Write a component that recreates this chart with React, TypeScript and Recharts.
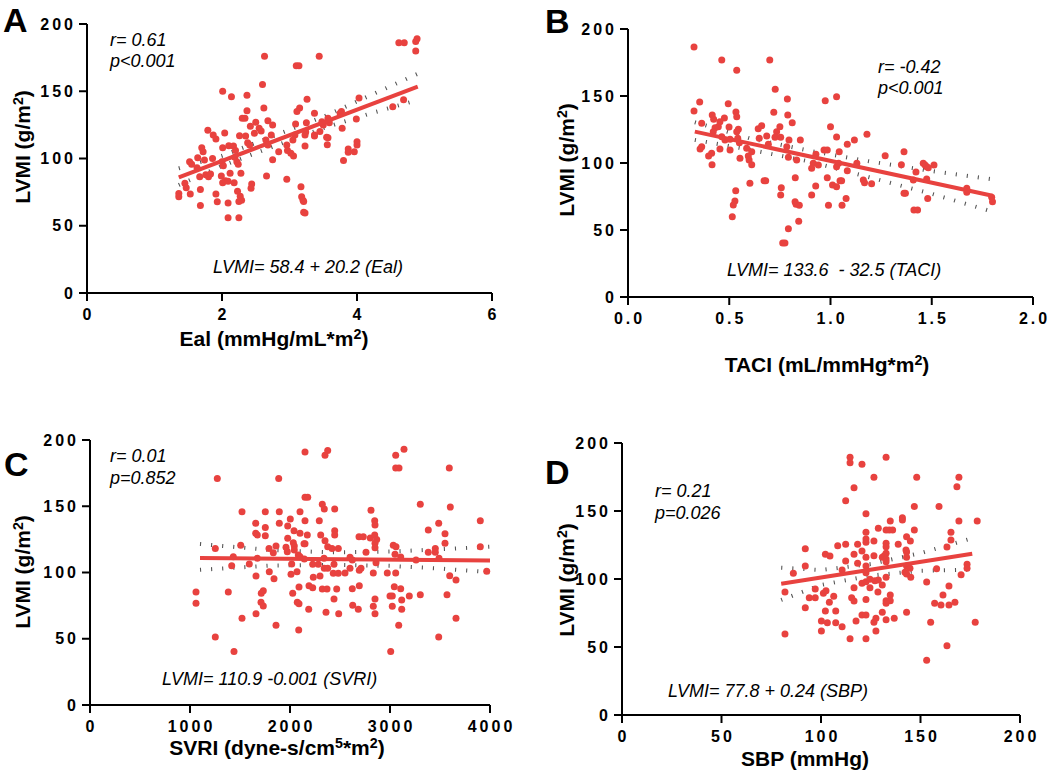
import * as React from "react";
import { Scatter, ScatterChart, XAxis, YAxis } from "recharts";

type Pt = [number, number];

const RED = "#E8423F";
const FONT = "'Liberation Sans', Arial, Helvetica, sans-serif";

// ---- A: Eal vs LVMI ----
const eaiPoints: Pt[] = [
  [2.63, 176], [3.44, 176], [3.1, 169], [3.14, 169], [2.6, 155], [2.01, 150], [2.14, 146], [2.37, 147],
  [3.26, 144], [2.62, 137.5], [2.37, 135.5], [3.15, 137.5], [3.11, 135], [3.37, 133.6], [2.3, 130], [2.34, 130],
  [2.5, 127], [2.68, 128], [2.75, 125], [3.09, 125.6], [2.42, 124], [2.55, 122.4], [2.58, 120.4], [1.79, 121],
  [2.04, 119], [1.87, 117.5], [1.91, 114.5], [2.26, 117], [2.35, 116.7], [2.48, 118.7], [2.65, 113.8], [2.73, 117.5],
  [3.08, 117.5], [3.05, 113.8], [3.23, 117.5], [3.24, 119.7], [3.37, 117.5], [3.45, 120], [3.55, 115.8], [2.38, 111.7],
  [2.41, 110], [1.7, 108], [1.72, 105], [2.01, 108], [2.1, 109.5], [2.17, 109.3], [2.2, 106], [2.68, 110],
  [2.84, 105], [2.96, 110], [2.97, 106], [3.02, 103.9], [3.06, 101.8], [3.23, 109.3], [1.64, 100.6], [1.52, 97.6],
  [1.55, 95.7], [1.74, 98.9], [1.86, 100], [2.0, 97.6], [2.02, 94.7], [2.19, 101], [2.22, 97.6], [2.24, 95.7],
  [2.75, 99], [1.63, 93.2], [1.67, 86.5], [1.76, 88], [1.8, 86.5], [1.83, 88.5], [1.99, 87], [2.12, 89],
  [2.28, 89], [2.66, 87], [2.96, 84.5], [1.36, 74], [1.36, 71.6], [1.45, 81.6], [1.47, 78.3], [1.53, 73.6],
  [1.68, 77], [1.91, 73.6], [1.93, 67.9], [2.01, 82], [2.05, 83.5], [2.09, 83], [2.18, 82], [2.23, 75.6],
  [2.44, 81], [2.43, 77.8], [2.09, 67], [2.27, 72], [2.29, 69], [2.25, 68], [1.68, 65], [2.09, 56],
  [2.25, 56], [3.17, 79], [3.18, 71.6], [3.2, 69], [3.21, 68], [3.21, 60], [3.23, 59.5], [4.62, 186],
  [4.7, 186], [4.89, 189], [4.87, 187], [4.87, 180], [4.03, 145], [4.69, 143.7], [4.53, 138.5], [3.77, 135],
  [3.75, 133.6], [3.99, 129.4], [3.25, 126.6], [3.48, 127.4], [3.5, 125], [3.57, 130], [3.59, 126.6], [3.78, 122.4],
  [3.37, 116.8], [3.57, 115.5], [3.56, 110.3], [3.87, 107], [3.87, 104.6], [3.96, 105], [4.0, 112.5], [4.0, 110],
  [3.8, 98.6],
];
const eaiFit: Pt[] = [[1.36, 86], [4.9, 153.5]];
const eaiUpper: Pt[] = [[1.36, 92.7], [2.0, 102], [2.7, 115.5], [3.5, 131], [4.2, 147], [4.9, 163]];
const eaiLower: Pt[] = [[1.36, 80.3], [2.0, 94.5], [2.7, 107.8], [3.5, 122.6], [4.2, 133.5], [4.9, 143.5]];

// ---- B: TACI vs LVMI ----
const taciPoints: Pt[] = [
  [0.326, 186.6], [0.463, 176.9], [0.7, 176.9], [0.537, 169.2], [0.727, 155], [0.787, 147.8], [0.354, 145.5], [0.326, 138.8],
  [0.495, 144.3], [0.533, 138], [0.537, 134.6], [0.72, 137.8], [0.789, 135.8], [0.416, 135.8], [0.423, 132.6], [0.476, 133.6],
  [0.364, 129.6], [0.454, 130.8], [0.446, 127.1], [0.43, 126.3], [0.811, 130], [0.499, 126.9], [0.545, 125.1], [0.537, 123.4],
  [0.66, 127.8], [0.643, 125.6], [0.75, 127.1], [0.734, 123.4], [0.726, 119.2], [0.754, 119.2], [0.421, 123.4], [1.0, 127.1],
  [1.03, 149.5], [0.974, 146.5], [1.03, 119.4], [0.648, 118.4], [0.685, 120.1], [0.795, 117.2], [0.851, 117.2], [0.463, 119.6],
  [0.479, 117.2], [0.504, 117.7], [0.542, 118.4], [0.55, 115.1], [0.693, 113.9], [0.784, 112.2], [0.364, 112.2], [0.356, 110.4],
  [0.454, 110.4], [0.504, 109.7], [0.586, 111], [0.611, 108.4], [0.594, 105.2], [0.598, 102.2], [0.413, 107.2], [0.398, 105.2],
  [0.553, 103.5], [0.792, 104.3], [0.833, 102.2], [0.928, 106.5], [0.968, 109.7], [0.984, 109.7], [0.915, 99.8], [0.907, 96],
  [0.94, 98.5], [1.03, 97.2], [1.04, 99.8], [0.415, 98.7], [0.611, 98.7], [0.826, 89], [0.984, 89], [0.602, 84.8],
  [0.672, 86.8], [0.68, 86.8], [0.927, 82.8], [1.01, 83.6], [1.03, 82.3], [0.757, 81.6], [0.754, 76.1], [0.532, 79.3],
  [0.907, 76.1], [0.528, 71.6], [0.52, 68.7], [0.825, 71.1], [0.83, 69.2], [0.846, 68.4], [0.515, 59.9], [0.843, 56.5],
  [0.792, 51], [0.764, 40.3], [0.775, 40.3], [1.18, 121.4], [1.118, 117.2], [1.083, 113.9], [1.043, 108.4], [1.27, 105.4],
  [1.363, 108.4], [1.083, 94.3], [1.13, 99.8], [1.35, 98.7], [1.458, 99.8], [1.475, 97.2], [1.467, 98.5], [1.483, 96.5],
  [1.511, 98.5], [1.422, 93.3], [1.475, 88], [1.162, 87.3], [1.168, 85.3], [1.203, 84.6], [1.047, 86.8], [1.055, 86.8],
  [1.409, 87.3], [1.673, 81.1], [1.673, 78.1], [1.796, 74.4], [1.8, 71.1], [1.363, 77.4], [1.37, 77.4], [1.48, 73.6],
  [1.077, 73.6], [1.057, 68.4], [1.412, 64.9], [1.43, 64.9], [0.99, 68.5],
];
const taciFit: Pt[] = [[0.33, 123.4], [1.8, 75.6]];
const taciUpper: Pt[] = [[0.33, 130.4], [0.6, 118.5], [0.9, 109], [1.2, 101], [1.5, 94], [1.8, 87.8]];
const taciLower: Pt[] = [[0.33, 117.2], [0.6, 110], [0.9, 101], [1.2, 89], [1.5, 77], [1.8, 63.7]];

// ---- C: SVRI vs LVMI ----
const svriPoints: Pt[] = [
  [2150, 190.9], [2377, 192], [2350, 188.4], [1273, 171], [1887, 171], [2150, 156.8], [2177, 156.8], [2323, 151.5],
  [2343, 148], [1520, 145.9], [1753, 145.9], [1893, 145.9], [2100, 145.9], [2447, 148], [1657, 137.1], [1753, 134],
  [1893, 137.1], [2003, 140.4], [2150, 139.1], [2293, 139.1], [1977, 135.1], [2040, 131.6], [2100, 129.6], [2173, 128.3],
  [1657, 129.6], [1673, 128.3], [1753, 127.8], [2447, 131.6], [2447, 128.3], [2307, 128.3], [1977, 125.8], [2350, 124],
  [2033, 122.5], [2043, 120], [2150, 121.7], [2140, 121.7], [1790, 118.2], [1860, 120], [1960, 119], [2377, 119.5],
  [2420, 118.2], [2483, 118.2], [1253, 118.2], [1507, 120.5], [1833, 114.9], [1973, 115.7], [2043, 117], [2083, 113.2],
  [2100, 111.9], [1433, 111.9], [1673, 110.7], [2143, 110.2], [2340, 110.7], [2017, 106.4], [1417, 105.1], [1593, 106.4],
  [2227, 106.2], [2283, 106.2], [2440, 106.2], [2343, 103.2], [2377, 103.2], [1660, 97.4], [1793, 100.6], [1840, 95.3],
  [2010, 98.6], [2070, 100.6], [2233, 96.4], [2300, 97.4], [2433, 99.4], [2483, 99.4], [2190, 90], [2227, 88.5],
  [2090, 89.1], [2323, 87.5], [2370, 87.5], [2467, 87.5], [1060, 85.3], [1383, 85.3], [1733, 86.3], [1713, 84.3],
  [2027, 84.3], [2440, 80], [1060, 76.8], [1710, 77.5], [1733, 74.7], [2073, 77.5], [2090, 76.5], [2187, 72.2],
  [2360, 70], [2487, 68.9], [1660, 68.9], [1520, 65.4], [1860, 60.2], [2087, 56.6], [1253, 51.3], [1440, 40.3],
  [3057, 188.4], [3140, 193], [3057, 178.9], [3090, 178.9], [3593, 178.9], [2810, 146.9], [3303, 151.5], [3603, 149.4],
  [2847, 139.1], [2850, 135.8], [3487, 137.1], [3903, 139.1], [3383, 132.1], [3550, 129.3], [2690, 127], [2733, 127],
  [2803, 126], [2847, 128.3], [2867, 125], [2850, 122], [2850, 118.7], [3550, 122], [3903, 119.5], [3033, 120.5],
  [3060, 119.5], [3453, 118.2], [3453, 115.2], [3383, 115.2], [2760, 115.2], [3050, 113.7], [3107, 111.7], [2600, 111.5],
  [2623, 109.4], [2860, 107.4], [3260, 109.4], [3490, 110.7], [2600, 103.2], [2710, 103.2], [2693, 101.7], [2550, 99.6],
  [2833, 99.6], [2973, 99.6], [3057, 99.6], [3597, 97.6], [3660, 94.3], [3967, 100.9], [2623, 87.8], [2693, 90],
  [3043, 89.3], [3107, 87.8], [2850, 80], [3000, 82.3], [3023, 82.3], [3117, 79.2], [3193, 82.3], [3303, 83.2],
  [3570, 83.2], [2627, 75.2], [2683, 72.2], [2833, 74.5], [3023, 74.5], [3117, 72.2], [2850, 68.9], [3660, 65.4],
  [3087, 60.2], [3487, 51.3], [3007, 40.3],
];
const svriFit: Pt[] = [[1100, 111], [4000, 109]];
const svriUpper: Pt[] = [[1100, 121.5], [1800, 117], [2400, 115.2], [3000, 115.8], [3500, 117.5], [4000, 119.5]];
const svriLower: Pt[] = [[1100, 102], [1800, 105.2], [2400, 105.8], [3000, 105], [3500, 103], [4000, 100.2]];

// ---- D: SBP vs LVMI ----
const sbpPoints: Pt[] = [
  [114.6, 189.5], [114.6, 185.5], [120.6, 184.3], [116.6, 167.1], [112.4, 157.6], [122.6, 148], [122.6, 134.3], [122.6, 129.4],
  [122.6, 127], [92.1, 122.3], [108.4, 124.5], [112.4, 125.5], [118.4, 125.5], [120.6, 120.6], [102.2, 118.2], [104.5, 116.9],
  [116.6, 118.2], [122.6, 116], [112.4, 113.2], [118.4, 111.5], [92.1, 109.6], [122.6, 109.6], [110.6, 106.6], [86.1, 104.2],
  [122.6, 104.6], [81.9, 90.4], [97.1, 92.6], [101.2, 89.5], [102.5, 91.4], [116.6, 93.6], [120.6, 96.8], [122.6, 98],
  [94.1, 86.3], [97.1, 86.3], [106.4, 87.3], [104.2, 82.9], [115.4, 86.3], [116.6, 83.8], [122.6, 85], [92.1, 78.9],
  [102.2, 76.5], [107.4, 76.5], [120.6, 73.5], [122.6, 73.5], [100.2, 69.1], [103.2, 67.9], [107.4, 67.9], [110.6, 64.9],
  [117.6, 69.1], [100.2, 61.8], [81.9, 59.6], [114.6, 56.1], [122.6, 56.1], [132.7, 189.5], [126.6, 174.8], [148.1, 174.8],
  [169.3, 174.8], [168.3, 167.9], [146.9, 153.4], [159.3, 153.4], [140.9, 145.1], [140.9, 143.4], [134.8, 142.6], [169.3, 142.6],
  [178.5, 142.6], [128.8, 137.3], [132.7, 136], [134.3, 136], [136, 136], [146.9, 136], [165.3, 134.3], [165.3, 128.7],
  [143, 131.1], [144.9, 128], [126.6, 128], [132.7, 126.2], [132.7, 123.8], [138.8, 125.5], [163.3, 123.5], [142.7, 121.3],
  [143, 119.9], [126.6, 117.1], [132.7, 118.9], [131.8, 117.1], [130.8, 116], [132.7, 114.7], [132.7, 112.7], [143, 116],
  [143, 109.6], [144.7, 107.9], [142.2, 104.9], [143, 103.7], [145.1, 101.2], [158.1, 107.6], [173.4, 110.8], [173.4, 107.9],
  [170.4, 103.2], [132.7, 101.2], [153.1, 97.8], [124.6, 99.8], [127.1, 98.8], [128.8, 99.3], [124.6, 93.6], [130.8, 95.6],
  [128.6, 90.4], [164.3, 94.9], [134.8, 88.2], [161.3, 88.2], [132.7, 84], [132.7, 82.1], [134.8, 84], [157.1, 82.1],
  [160.3, 80.9], [164.3, 80.9], [167.3, 82.9], [130.8, 75.5], [143, 75.5], [127.6, 71.1], [126.6, 68.2], [132.7, 70.1],
  [136.8, 71.1], [155.1, 68.2], [177.5, 68.2], [127.6, 61.8], [163.3, 51], [153.1, 40.2],
];
const sbpFit: Pt[] = [[80, 96.5], [176, 118.5]];
const sbpUpper: Pt[] = [[80, 108.3], [100, 106.6], [125, 111], [150, 119], [176, 130]];
const sbpLower: Pt[] = [[80, 84.6], [100, 95.6], [125, 102.5], [150, 106], [176, 106.9]];

const lvmiTicks = [0, 50, 100, 150, 200];

const toXY = (pts: Pt[]) => pts.map(([x, y]) => ({ x, y }));
const noDot = () => <g />;

interface PanelProps {
  left: number;
  top: number;
  width: number;
  height: number;
  // plot rectangle inside the panel box
  plot: { x0: number; x1: number; y0: number; y1: number };
  xDomain: [number, number];
  xTicks: number[];
  digits?: number;
  points: Pt[];
  fit: Pt[];
  upper: Pt[];
  lower: Pt[];
}

const tickText = { fontFamily: FONT, fontSize: 16, fontWeight: 700, letterSpacing: 3, fill: "#000" };

function Panel({ left, top, width, height, plot, xDomain, xTicks, digits = 0, points, fit, upper, lower }: PanelProps) {
  const axisLine = { stroke: "#000", strokeWidth: 2 };
  const margin = { top: plot.y0, left: plot.x0 - 1, right: width - plot.x1, bottom: height - plot.y1 - 1 };
  return (
    <div style={{ position: "absolute", left, top }}>
      <ScatterChart width={width} height={height} margin={margin}>
        <XAxis
          type="number"
          dataKey="x"
          domain={xDomain}
          ticks={xTicks}
          height={1}
          axisLine={axisLine}
          tickLine={axisLine}
          tickSize={8}
          interval={0}
          tick={(p: any) => (
            <text x={p.x + 1.5} y={p.y + 6} dy="0.71em" textAnchor="middle" {...tickText}>
              {Number(p.payload.value).toFixed(digits)}
            </text>
          )}
        />
        <YAxis
          type="number"
          dataKey="y"
          domain={[0, 200]}
          ticks={lvmiTicks}
          width={1}
          axisLine={axisLine}
          tickLine={axisLine}
          tickSize={8}
          interval={0}
          tick={(p: any) => (
            <text x={p.x - 1} y={p.y} dy="0.355em" textAnchor="end" {...tickText}>
              {p.payload.value}
            </text>
          )}
        />
        <Scatter data={toXY(upper)} line={{ stroke: "#555", strokeWidth: 4, strokeDasharray: "1.1 10" }} shape={noDot} isAnimationActive={false} />
        <Scatter data={toXY(lower)} line={{ stroke: "#555", strokeWidth: 4, strokeDasharray: "1.1 10" }} shape={noDot} isAnimationActive={false} />
        <Scatter data={toXY(points)} fill={RED} shape={(p: any) => <circle cx={p.cx} cy={p.cy} r={3.5} fill={RED} />} isAnimationActive={false} />
        <Scatter data={toXY(fit)} line={{ stroke: RED, strokeWidth: 4 }} shape={noDot} isAnimationActive={false} />
      </ScatterChart>
    </div>
  );
}

const sup = (s: string) => (
  <tspan fontSize="0.68em" dy="-0.5em">{s}</tspan>
);

export default function App() {
  const bold = { fontFamily: FONT, fontWeight: 700, fill: "#000" } as const;
  const ital = { fontFamily: FONT, fontStyle: "italic", fill: "#000" } as const;
  const yTitle = (cx: number, cy: number) => (
    <text x={cx} y={cy} transform={`rotate(-90 ${cx} ${cy})`} textAnchor="middle" fontSize={21} {...bold}>
      LVMI (g/m{sup("2")}<tspan dy="0.34em">)</tspan>
    </text>
  );
  return (
    <div style={{ position: "absolute", left: 0, top: 0, width: 1050, height: 777, background: "#fff" }}>
      <Panel left={0} top={0} width={525} height={388} plot={{ x0: 87, x1: 492, y0: 24, y1: 293 }}
        xDomain={[0, 6]} xTicks={[0, 2, 4, 6]} points={eaiPoints} fit={eaiFit} upper={eaiUpper} lower={eaiLower} />
      <Panel left={525} top={0} width={525} height={388} plot={{ x0: 103, x1: 508, y0: 29, y1: 297 }}
        xDomain={[0, 2]} xTicks={[0, 0.5, 1, 1.5, 2]} digits={1} points={taciPoints} fit={taciFit} upper={taciUpper} lower={taciLower} />
      <Panel left={0} top={388} width={525} height={389} plot={{ x0: 90, x1: 490, y0: 52, y1: 317 }}
        xDomain={[0, 4000]} xTicks={[0, 1000, 2000, 3000, 4000]} points={svriPoints} fit={svriFit} upper={svriUpper} lower={svriLower} />
      <Panel left={525} top={388} width={525} height={389} plot={{ x0: 97, x1: 495, y0: 55, y1: 327 }}
        xDomain={[0, 200]} xTicks={[0, 50, 100, 150, 200]} points={sbpPoints} fit={sbpFit} upper={sbpUpper} lower={sbpLower} />

      <svg width={1050} height={777} style={{ position: "absolute", left: 0, top: 0, pointerEvents: "none" }}>
        <text x={3} y={32} fontSize={34} {...bold}>A</text>
        <text x={545} y={33} fontSize={34} {...bold}>B</text>
        <text x={4} y={476} fontSize={34} {...bold}>C</text>
        <text x={545} y={484} fontSize={34} {...bold}>D</text>

        {yTitle(30, 147)}
        {yTitle(574, 160)}
        {yTitle(30, 572)}
        {yTitle(574, 580)}

        <text x={274} y={346} textAnchor="middle" fontSize={21} {...bold}>Eal (mmHg/mL*m{sup("2")}<tspan dy="0.34em">)</tspan></text>
        <text x={827} y={372} textAnchor="middle" fontSize={21} {...bold}>TACI (mL/mmHg*m{sup("2")}<tspan dy="0.34em">)</tspan></text>
        <text x={277} y={755} textAnchor="middle" fontSize={21} {...bold}>
          SVRI (dyne-s/cm{sup("5")}<tspan dy="0.34em">*m</tspan>{sup("2")}<tspan dy="0.34em">)</tspan>
        </text>
        <text x={805} y={766} textAnchor="middle" fontSize={21} {...bold}>SBP (mmHg)</text>

        <text x={110} y={46} fontSize={18} {...ital}>r= 0.61</text>
        <text x={110} y={67} fontSize={18} {...ital}>p&lt;0.001</text>
        <text x={878} y={73} fontSize={18} {...ital}>r= -0.42</text>
        <text x={878} y={94} fontSize={18} {...ital}>p&lt;0.001</text>
        <text x={110} y={462} fontSize={18} {...ital}>r= 0.01</text>
        <text x={110} y={484} fontSize={18} {...ital}>p=0.852</text>
        <text x={655} y={497} fontSize={18} {...ital}>r= 0.21</text>
        <text x={655} y={519} fontSize={18} {...ital}>p=0.026</text>

        <text x={213} y={273} fontSize={18} {...ital}>LVMI= 58.4 + 20.2 (Eal)</text>
        <text x={727} y={276} fontSize={18} {...ital} style={{ whiteSpace: "pre" }}>LVMI= 133.6  - 32.5 (TACI)</text>
        <text x={162} y={685} fontSize={18} {...ital}>LVMI= 110.9 -0.001 (SVRI)</text>
        <text x={668} y={697} fontSize={18} {...ital}>LVMI= 77.8 + 0.24 (SBP)</text>
      </svg>
    </div>
  );
}
